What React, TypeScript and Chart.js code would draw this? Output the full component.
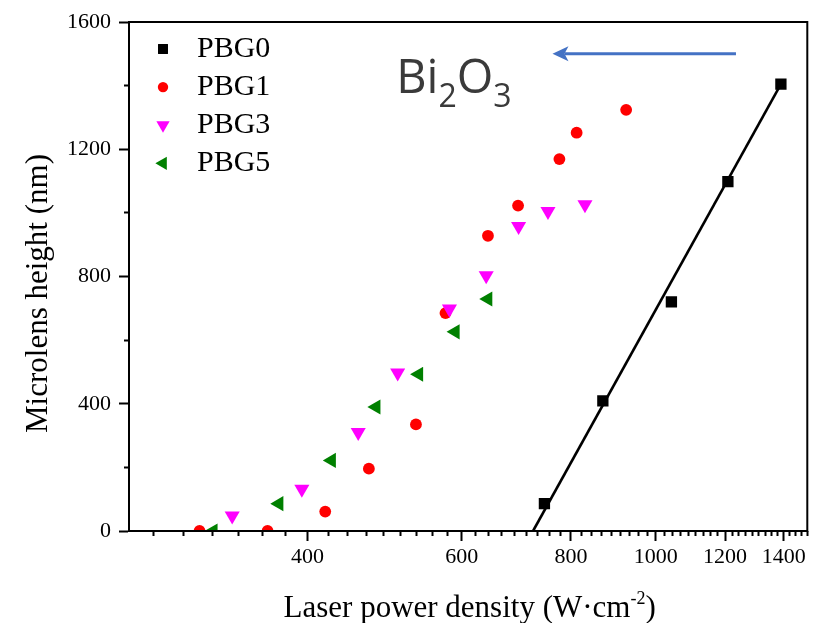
import React, { useEffect, useRef } from 'react';
import { Chart, registerables, PointElement } from 'chart.js';

Chart.register(...registerables);

const SERIF = "'Liberation Serif', 'Times New Roman', serif";
const SANS = "'Open Sans', 'Noto Sans', sans-serif";

// Laser power density (W·cm^-2) vs. microlens height (nm)
const pbg0Power = [746, 870, 1042, 1209, 1390];
const pbg0Height = [86, 409, 720, 1098, 1405];

const pbg1Power = [301, 360, 419, 470, 532, 575, 643, 696, 776, 812, 925];
const pbg1Height = [0, 0, 61, 196, 335, 685, 928, 1023, 1169, 1252, 1324];

const pbg3Power = [328, 394, 457, 507, 581, 640, 697, 753, 830];
const pbg3Height = [48, 132, 310, 497, 698, 803, 958, 1005, 1026];

const pbg5Power = [312, 371, 426, 479, 536, 590, 643];
const pbg5Height = [0, 86, 222, 390, 493, 626, 729];

// Linear fit through the PBG0 series
const fitPower = [724, 1390];
const fitHeight = [0, 1405];

const xMajorTicks = [400, 600, 800, 1000, 1200, 1400];
const yMajorTicks = [0, 400, 800, 1200, 1600];
const yMinorTicks = [200, 600, 1000, 1400];
const X_RANGE = [250, 1490];
const Y_RANGE = [0, 1600];
const MINOR_PER_INTERVAL = 8;

const X_TITLE = 'Laser power density (W·cm';
const X_TITLE_SUP = '-2';
const X_TITLE_END = ')';
const Y_TITLE = 'Microlens height (nm)';

const compoundParts = [
  { text: 'Bi', sub: false },
  { text: '2', sub: true },
  { text: 'O', sub: false },
  { text: '3', sub: true },
];
const compoundAt = { x: 505, y: 1377 };
const arrowFrom = { x: 1235, y: 1500 };
const arrowTo = { x: 762, y: 1500 };

const toPoints = (xs: number[], ys: number[]) => xs.map((x, i) => ({ x, y: ys[i] }));

function xMinorTicks(): number[] {
  const step = (xMajorTicks[1] - xMajorTicks[0]) / (MINOR_PER_INTERVAL + 1);
  const out: number[] = [];
  for (let k = -30; k < 120; k++) {
    if (k % (MINOR_PER_INTERVAL + 1) === 0) continue;
    const v = xMajorTicks[0] + k * step;
    if (v <= X_RANGE[0] || v >= X_RANGE[1]) continue;
    out.push(v);
  }
  return out;
}

const decorations = {
  id: 'decorations',
  afterDraw(chart: any) {
    const { ctx, chartArea: area, scales } = chart;
    const xs = scales.x;
    const ys = scales.y;
    ctx.save();

    // plot frame
    ctx.strokeStyle = '#000';
    ctx.lineWidth = 2;
    ctx.strokeRect(area.left, area.top, area.right - area.left, area.bottom - area.top);

    // legend
    const lx = area.left + 34;
    const ly0 = area.top + 27;
    const lstep = 38.1;
    const tx = area.left + 68;
    chart.data.datasets.forEach((ds: any, i: number) => {
      if (!ds.inLegend) return;
      const y = ly0 + i * lstep;
      const p = new PointElement({} as any) as any;
      p.x = lx;
      p.y = y;
      p.options = {
        pointStyle: ds.pointStyle,
        rotation: ds.pointRotation || 0,
        radius: ds.pointRadius * 0.88,
        backgroundColor: ds.backgroundColor,
        borderColor: ds.borderColor,
        borderWidth: 0,
      };
      p.draw(ctx);
      ctx.fillStyle = '#000';
      ctx.font = `30px ${SERIF}`;
      ctx.textAlign = 'left';
      ctx.textBaseline = 'alphabetic';
      ctx.fillText(ds.label, tx, y + 8);
    });

    // x title with superscript
    ctx.fillStyle = '#000';
    ctx.textBaseline = 'alphabetic';
    ctx.textAlign = 'left';
    ctx.font = `31px ${SERIF}`;
    const wMain = ctx.measureText(X_TITLE).width;
    const wEnd = ctx.measureText(X_TITLE_END).width;
    ctx.font = `18px ${SERIF}`;
    const wSup = ctx.measureText(X_TITLE_SUP).width;
    const total = wMain + wSup + wEnd;
    let cx = (area.left + area.right) / 2 + 1.5 - total / 2;
    const base = area.bottom + 85.5;
    ctx.font = `31px ${SERIF}`;
    ctx.fillText(X_TITLE, cx, base);
    cx += wMain;
    ctx.font = `18px ${SERIF}`;
    ctx.fillText(X_TITLE_SUP, cx, base - 13);
    cx += wSup;
    ctx.font = `31px ${SERIF}`;
    ctx.fillText(X_TITLE_END, cx, base);

    // y title
    ctx.save();
    ctx.translate(area.left - 82.3, (area.top + area.bottom) / 2 + 17);
    ctx.rotate(-Math.PI / 2);
    ctx.textAlign = 'center';
    ctx.font = `31px ${SERIF}`;
    ctx.fillText(Y_TITLE, 0, 0);
    ctx.restore();

    // compound label
    let bx = xs.getPixelForValue(compoundAt.x);
    const by = ys.getPixelForValue(compoundAt.y);
    ctx.fillStyle = '#3a3a3a';
    compoundParts.forEach((part) => {
      ctx.font = part.sub ? `32px ${SANS}` : `47px ${SANS}`;
      ctx.fillText(part.text, bx, by + (part.sub ? 14 : 0));
      bx += ctx.measureText(part.text).width;
    });

    // arrow
    const ax0 = xs.getPixelForValue(arrowFrom.x);
    const ax1 = xs.getPixelForValue(arrowTo.x);
    const ay = ys.getPixelForValue(arrowFrom.y);
    ctx.strokeStyle = '#4472c4';
    ctx.fillStyle = '#4472c4';
    ctx.lineWidth = 3;
    ctx.beginPath();
    ctx.moveTo(ax0, ay);
    ctx.lineTo(ax1 + 12, ay);
    ctx.stroke();
    ctx.beginPath();
    ctx.moveTo(ax1, ay);
    ctx.lineTo(ax1 + 16, ay - 7.5);
    ctx.lineTo(ax1 + 12, ay);
    ctx.lineTo(ax1 + 16, ay + 7.5);
    ctx.closePath();
    ctx.fill();

    ctx.restore();
  },
};

export default function App() {
  const canvasRef = useRef<HTMLCanvasElement | null>(null);

  useEffect(() => {
    const canvas = canvasRef.current;
    if (!canvas) return;
    const minorX = xMinorTicks();
    const markerBase = { showLine: false, pointBorderWidth: 0, clip: 0, inLegend: true };
    const chart = new Chart(canvas, {
      type: 'scatter',
      data: {
        datasets: [
          {
            ...markerBase,
            label: 'PBG0',
            data: toPoints(pbg0Power, pbg0Height),
            pointStyle: 'rect',
            pointRadius: 8,
            backgroundColor: '#000000',
            borderColor: '#000000',
            order: 4,
          },
          {
            ...markerBase,
            label: 'PBG1',
            data: toPoints(pbg1Power, pbg1Height),
            pointStyle: 'circle',
            pointRadius: 5.9,
            backgroundColor: '#ff0000',
            borderColor: '#ff0000',
            order: 3,
          },
          {
            ...markerBase,
            label: 'PBG3',
            data: toPoints(pbg3Power, pbg3Height),
            pointStyle: 'triangle',
            pointRotation: 180,
            pointRadius: 8.7,
            backgroundColor: '#ff00ff',
            borderColor: '#ff00ff',
            order: 2,
          },
          {
            ...markerBase,
            label: 'PBG5',
            data: toPoints(pbg5Power, pbg5Height),
            pointStyle: 'triangle',
            pointRotation: -90,
            pointRadius: 8.7,
            backgroundColor: '#008000',
            borderColor: '#008000',
            order: 1,
          },
          {
            label: 'PBG0 fit',
            data: toPoints(fitPower, fitHeight),
            showLine: true,
            borderColor: '#000000',
            backgroundColor: '#000000',
            borderWidth: 2.6,
            pointRadius: 0,
            clip: 0,
            order: 5,
          },
        ] as any,
      },
      options: {
        animation: false,
        responsive: false,
        devicePixelRatio: 1,
        events: [],
        layout: { padding: { left: 0, top: 22, right: 5, bottom: 0 } },
        plugins: { legend: { display: false }, tooltip: { enabled: false } },
        scales: {
          x: {
            type: 'logarithmic',
            axis: 'x',
            position: 'bottom',
            weight: 1,
            min: X_RANGE[0],
            max: X_RANGE[1],
            afterBuildTicks: (s: any) => {
              s.ticks = xMajorTicks.map((v) => ({ value: v }));
            },
            afterFit: (s: any) => {
              s.height = 92;
            },
            grid: { drawOnChartArea: false, drawTicks: true, tickLength: 10, tickWidth: 2, tickColor: '#000' },
            border: { display: true, color: '#000', width: 2 },
            ticks: {
              autoSkip: false,
              maxRotation: 0,
              minRotation: 0,
              padding: 3,
              color: '#000',
              font: { family: SERIF, size: 22 },
              callback: (v: any) => String(v),
            },
          },
          xMinor: {
            type: 'logarithmic',
            axis: 'x',
            position: 'bottom',
            weight: 0,
            min: X_RANGE[0],
            max: X_RANGE[1],
            afterBuildTicks: (s: any) => {
              s.ticks = minorX.map((v) => ({ value: v }));
            },
            afterFit: (s: any) => {
              s.height = 0;
            },
            grid: { drawOnChartArea: false, drawTicks: true, tickLength: 5, tickWidth: 2, tickColor: '#000' },
            border: { display: false },
            ticks: { display: false },
          },
          y: {
            type: 'linear',
            axis: 'y',
            position: 'left',
            weight: 1,
            min: Y_RANGE[0],
            max: Y_RANGE[1],
            afterBuildTicks: (s: any) => {
              s.ticks = yMajorTicks.map((v) => ({ value: v }));
            },
            afterFit: (s: any) => {
              s.width = 129;
            },
            grid: { drawOnChartArea: false, drawTicks: true, tickLength: 10, tickWidth: 2, tickColor: '#000' },
            border: { display: true, color: '#000', width: 2 },
            ticks: {
              padding: 8,
              color: '#000',
              font: { family: SERIF, size: 22 },
              callback: (v: any) => String(v),
            },
          },
          yMinor: {
            type: 'linear',
            axis: 'y',
            position: 'left',
            weight: 0,
            min: Y_RANGE[0],
            max: Y_RANGE[1],
            afterBuildTicks: (s: any) => {
              s.ticks = yMinorTicks.map((v) => ({ value: v }));
            },
            afterFit: (s: any) => {
              s.width = 0;
            },
            grid: { drawOnChartArea: false, drawTicks: true, tickLength: 5, tickWidth: 2, tickColor: '#000' },
            border: { display: false },
            ticks: { display: false },
          },
        },
      } as any,
      plugins: [decorations],
    });
    return () => chart.destroy();
  }, []);

  return (
    <div style={{ position: 'fixed', left: 0, top: 0, width: 816, height: 623, background: '#fff' }}>
      <canvas ref={canvasRef} width={816} height={623} style={{ display: 'block' }} />
    </div>
  );
}
